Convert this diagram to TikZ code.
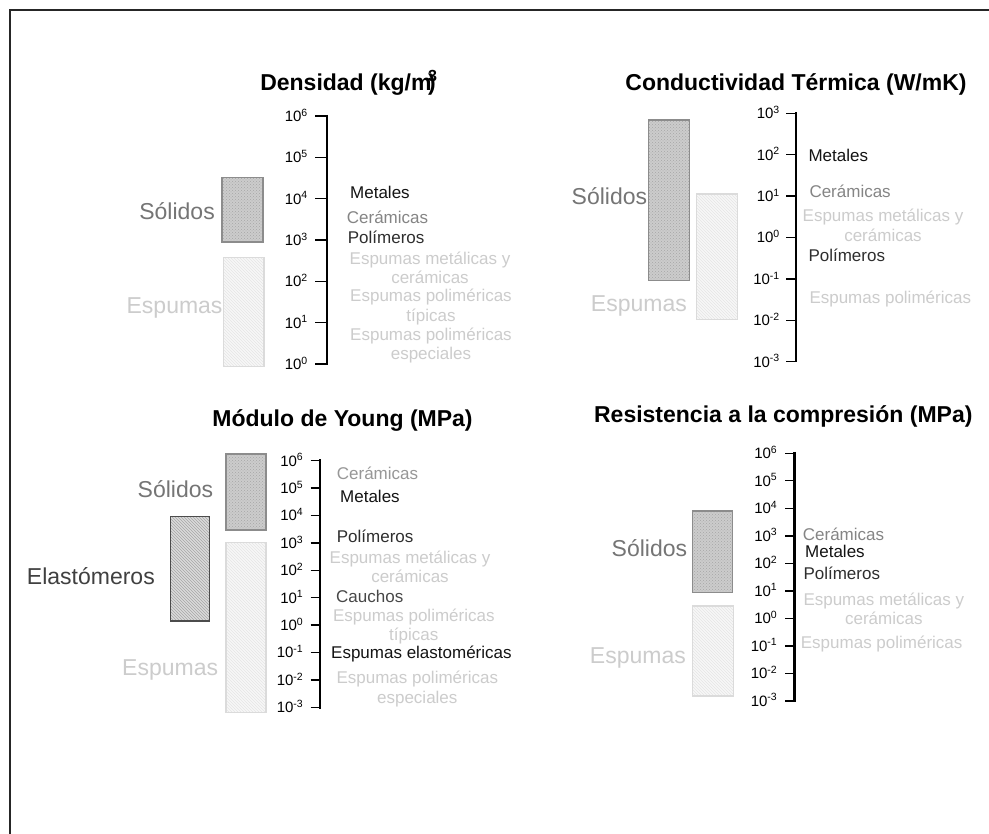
\documentclass[tikz,border=0pt]{standalone}
\usepackage{fontspec}
\setmainfont{Liberation Sans}
\usetikzlibrary{patterns,calc}
\begin{document}
\begin{tikzpicture}[x=1pt,y=-1pt,
  title/.style={anchor=base,font=\fontsize{23}{26}\selectfont\bfseries,inner sep=0pt},
  ticklbl/.style={anchor=base east,font=\fontsize{15}{17}\selectfont,inner sep=0pt},
  group/.style={anchor=base east,font=\fontsize{23}{26}\selectfont,inner sep=0pt},
  item/.style={anchor=base west,font=\fontsize{17}{19.5}\selectfont,inner sep=0pt},
  item2/.style={anchor=center,align=center,font=\fontsize{17}{19.5}\selectfont,inner sep=0pt},
  axisline/.style={line width=2.6pt},
  tickline/.style={line width=1.4pt},
  solidbox/.style={draw=black!45,line width=1.2pt,preaction={fill=black!20},pattern=crosshatch dots,pattern color=black!35},
  foambox/.style={draw=black!14,line width=1.2pt,preaction={fill=black!3},pattern=north west lines,pattern color=black!10},
  elastbox/.style={draw=black!70,line width=1.2pt,preaction={fill=black!14},pattern=north west lines,pattern color=black!35},
]
\definecolor{cSol}{gray}{0.46}
\definecolor{cFoam}{gray}{0.80}
\definecolor{cElas}{gray}{0.25}
\definecolor{cMet}{gray}{0.08}
\definecolor{cCer}{gray}{0.52}
\definecolor{cPol}{gray}{0.18}
\definecolor{cCau}{gray}{0.28}
\useasboundingbox (0,0) rectangle (989,834);
\fill[white] (0,0) rectangle (989,834);
% outer frame
\draw[line width=2pt,black!85] (10,834) -- (10,10) -- (989,10);

% ---------- Densidad ----------
\node[title] (t1) at (348,90.7) {Densidad (kg/m\kern-0.15em\rlap{\textsuperscript{3}})};
\draw[axisline] (327,115) coordinate (a1top) -- (327,365) coordinate (a1bot);
\foreach \e in {0,...,6}{
  \pgfmathsetmacro{\yy}{364-41.33*\e}
  \draw[tickline] (315,\yy) coordinate (d-tk\e) -- (327,\yy);
  \node[ticklbl] (d-tl\e) at ($(308,\yy)+(0,5.4)$) {10\textsuperscript{\e}};
}
\path[solidbox] (222,177.5) rectangle (263,242);
\path[foambox] (223.5,257.5) rectangle (264,366.5);
\node[group,text=cSol] (d-sol) at (215,219.9) {Sólidos};
\node[group,text=cFoam] (d-esp) at (222.7,313.2) {Espumas};
\node[item,text=cMet] (d-met) at (350,199) {Metales};
\node[item,text=cCer] (d-cer) at (346.7,224) {Cerámicas};
\node[item,text=cPol] (d-pol) at (347.7,244) {Polímeros};
\node[item2,text=cFoam] (d-emc) at (430,268) {Espumas metálicas y\\cerámicas};
\node[item2,text=cFoam] (d-ept) at (431,307) {Espumas poliméricas\\típicas};
\node[item2,text=cFoam] (d-epe) at (431,345.5) {Espumas poliméricas\\especiales};

% ---------- Conductividad ----------
\node[title] (t2) at (796,90.5) {Conductividad Térmica (W/mK)};
\draw[axisline] (796,112.5) coordinate (a2top) -- (796,362.5) coordinate (a2bot);
\foreach \e/\k in {3/0,2/1,1/2,0/3,-1/4,-2/5,-3/6}{
  \pgfmathsetmacro{\yy}{113.3+41.4*\k}
  \draw[tickline] (786,\yy) coordinate (c-tk\k) -- (796,\yy);
  \node[ticklbl] (c-tl\k) at ($(780,\yy)+(0,5.4)$) {10\textsuperscript{\e}};
}
\path[solidbox] (648.5,120) rectangle (689.3,280.7);
\path[foambox] (696.7,194) rectangle (737.3,319.3);
\node[group,text=cSol] (c-sol) at (647.3,204.9) {Sólidos};
\node[group,text=cFoam] (c-esp) at (687,311.2) {Espumas};
\node[item,text=cMet] (c-met) at (808.3,162) {Metales};
\node[item,text=cCer] (c-cer) at (809.3,197.7) {Cerámicas};
\node[item2,text=cFoam] (c-emc) at (883,225.3) {Espumas metálicas y\\cerámicas};
\node[item,text=cPol] (c-pol) at (808.3,262) {Polímeros};
\node[item,text=cFoam] (c-epo) at (809.3,303.7) {Espumas poliméricas};

% ---------- Modulo de Young ----------
\node[title] (t3) at (342.5,426.7) {Módulo de Young (MPa)};
\draw[axisline] (320,459.5) coordinate (a3top) -- (320,708.5) coordinate (a3bot);
\foreach \e/\k in {6/0,5/1,4/2,3/3,2/4,1/5,0/6,-1/7,-2/8,-3/9}{
  \pgfmathsetmacro{\yy}{460.7+27.4*\k}
  \draw[tickline] (310.7,\yy) coordinate (y-tk\k) -- (320,\yy);
  \node[ticklbl] (y-tl\k) at ($(303.5,\yy)+(0,5.4)$) {10\textsuperscript{\e}};
}
\path[solidbox] (226,454) rectangle (266,530);
\path[foambox] (226,542.7) rectangle (266,712.3);
\path[elastbox] (170.7,516.7) rectangle (209.3,621);
\node[group,text=cSol] (y-sol) at (213.3,497.5) {Sólidos};
\node[group,text=cElas] (y-ela) at (155,584.2) {Elastómeros};
\node[group,text=cFoam] (y-esp) at (218.3,675.9) {Espumas};
\node[item,text=cCer!85] (y-cer) at (336.7,480) {Cerámicas};
\node[item,text=cMet] (y-met) at (340,502.7) {Metales};
\node[item,text=cPol] (y-pol) at (336.7,542) {Polímeros};
\node[item2,text=cFoam] (y-emc) at (410,567) {Espumas metálicas y\\cerámicas};
\node[item,text=cCau] (y-cau) at (336,602) {Cauchos};
\node[item2,text=cFoam] (y-ept) at (413.8,626.3) {Espumas poliméricas\\típicas};
\node[item,text=cMet] (y-eel) at (331,658.3) {Espumas elastoméricas};
\node[item2,text=cFoam] (y-epe) at (417.3,689.1) {Espumas poliméricas\\especiales};

% ---------- Resistencia a la compresion ----------
\node[title] (t4) at (783.3,422.7) {Resistencia a la compresión (MPa)};
\draw[axisline] (794.3,452) coordinate (a4top) -- (794.3,702) coordinate (a4bot);
\foreach \e/\k in {6/0,5/1,4/2,3/3,2/4,1/5,0/6,-1/7,-2/8,-3/9}{
  \pgfmathsetmacro{\yy}{453.3+27.5*\k}
  \draw[tickline] (785,\yy) coordinate (r-tk\k) -- (794.3,\yy);
  \node[ticklbl] (r-tl\k) at ($(777.5,\yy)+(0,5.4)$) {10\textsuperscript{\e}};
}
\path[solidbox] (692.7,511) rectangle (732.7,592.3);
\path[foambox] (692.7,606) rectangle (733.3,696);
\node[group,text=cSol] (r-sol) at (687.3,556.5) {Sólidos};
\node[group,text=cFoam] (r-esp) at (686,663.2) {Espumas};
\node[item,text=cCer] (r-cer) at (802.7,540.3) {Cerámicas};
\node[item,text=cMet] (r-met) at (805,557.7) {Metales};
\node[item,text=cPol] (r-pol) at (803.3,579.3) {Polímeros};
\node[item2,text=cFoam] (r-emc) at (883.8,608.8) {Espumas metálicas y\\cerámicas};
\node[item,text=cFoam] (r-epo) at (800.7,648.3) {Espumas poliméricas};
\end{tikzpicture}
\end{document}
